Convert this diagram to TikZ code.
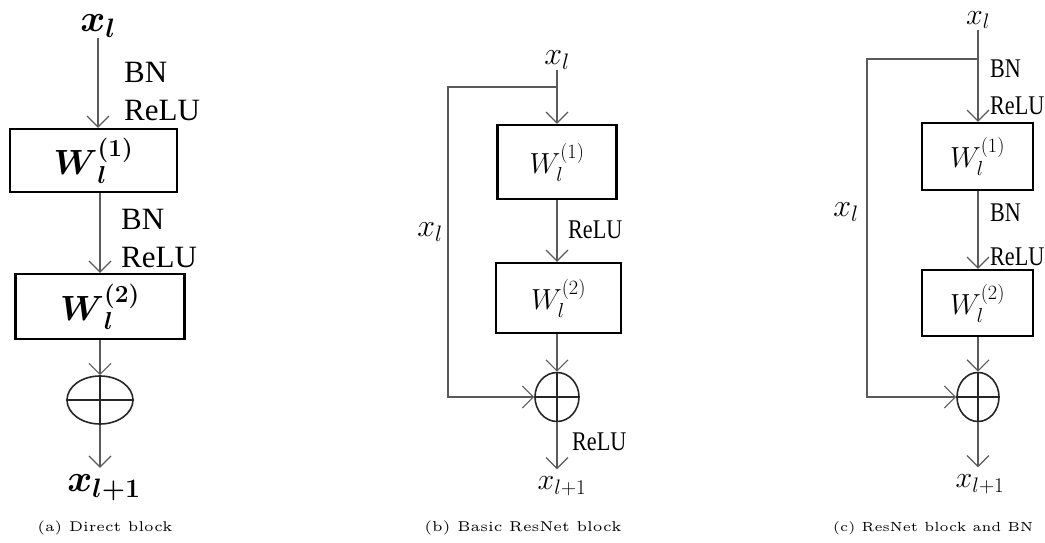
\RequirePackage{fix-cm}
\documentclass[tikz,border=0pt]{standalone}
\usepackage{fontspec}
\usepackage{amsmath}
\usepackage{graphicx}
\usetikzlibrary{shapes.geometric, arrows.meta, positioning, calc}
\newfontfamily\dfont{Liberation Serif}
\newfontfamily\cfont{Liberation Serif}[FakeStretch=0.82]
\definecolor{linegray}{HTML}{5A5A5A}
\newcommand{\xbold}[1]{$\boldsymbol{x}_{\boldsymbol{#1}}$}
\newcommand{\wbold}[1]{$\boldsymbol{W}_{\boldsymbol{l}}^{\boldsymbol{(#1)}}$}
\newcommand{\xplain}[1]{$x_{#1}$}
\newcommand{\wplain}[1]{$W_{l}^{(#1)}$}
\newcommand{\capt}[2]{\resizebox{#1}{!}{\fontsize{5}{6}\selectfont #2}}
\tikzstyle{wbox} = [rectangle, draw=black, line width=2.2pt, inner sep=0pt]
\tikzstyle{sumnode} = [ellipse, draw=black!85, line width=1.6pt, inner sep=0pt]
\tikzstyle{arr} = [-{Straight Barb[length=11pt, width=22pt]}, line width=1.2pt, color=linegray]
\tikzstyle{conn} = [line width=1.4pt, color=black!85]
\tikzstyle{lbl} = [inner sep=1pt]
\tikzstyle{txa} = [inner sep=0pt, anchor=west, font=\dfont\fontsize{31}{34}\selectfont]
\tikzstyle{txb} = [inner sep=0pt, anchor=west, font=\cfont\fontsize{27}{30}\selectfont]

\begin{document}
\begin{tikzpicture}[x=1pt, y=-1pt]
    \useasboundingbox (0,0) rectangle (1045,543);

    % (a) Direct block
    \node[lbl, font=\fontsize{38}{42}\selectfont] (xa) at (98,26) {\xbold{l}};
    \node[wbox, minimum width=167pt, minimum height=63pt, font=\fontsize{35}{40}\selectfont] (wa1) at (93.5,160.5) {\wbold{1}};
    \node[wbox, minimum width=169pt, minimum height=65pt, font=\fontsize{35}{40}\selectfont] (wa2) at (100,306.5) {\wbold{2}};
    \node[sumnode, minimum width=66pt, minimum height=48pt] (sa) at (100,400) {};
    \node[lbl, font=\fontsize{38}{42}\selectfont] (xao) at (104,488) {\xbold{l+1}};
    \node[txa] (bna1) at (124,72) {BN};
    \node[txa] (rla1) at (124,111) {ReLU};
    \node[txa] (bna2) at (121,219) {BN};
    \node[txa] (rla2) at (121,258) {ReLU};

    \draw[arr] (xa.south) -- (xa.south |- wa1.north);
    \draw[arr] (wa2 |- wa1.south) -- (wa2.north);
    \draw[arr] (wa2.south) -- (sa.north);
    \draw[arr, shorten >=6pt] (sa.south) -- (sa.south |- xao.north);
    \draw[conn] (sa.west) -- (sa.east);
    \draw[conn] (sa.north) -- (sa.south);

    % (b) Basic ResNet block
    \node[lbl, font=\fontsize{32}{36}\selectfont] (xb) at (557,60) {\xplain{l}};
    \coordinate (bj) at (557,87);
    \coordinate (bl) at (448,87);
    \node[wbox, minimum width=119pt, minimum height=74pt, font=\fontsize{29}{34}\selectfont] (wb1) at (557,162) {\wplain{1}};
    \node[wbox, minimum width=125pt, minimum height=70pt, font=\fontsize{29}{34}\selectfont] (wb2) at (558.5,298) {\wplain{2}};
    \node[sumnode, minimum width=44pt, minimum height=49pt] (sb) at (557,397) {};
    \node[lbl, font=\fontsize{32}{36}\selectfont] (xbs) at (430,232) {\xplain{l}};
    \node[lbl, font=\fontsize{30}{34}\selectfont] (xbo) at (562,486) {\xplain{l+1}};
    \node[txb] (rlb1) at (568,230) {ReLU};
    \node[txb] (rlb2) at (572,442) {ReLU};

    \draw[arr] (xb.south) -- (wb1.north);
    \draw[arr] (wb1.south) -- (wb1.south |- wb2.north);
    \draw[arr] (wb2.south -| sb) -- (sb.north);
    \draw[arr] (bj) -- (bl) |- (sb.west);
    \draw[arr, shorten >=6pt] (sb.south) -- (sb.south |- xbo.north);
    \draw[conn] (sb.west) -- (sb.east);
    \draw[conn] (sb.north) -- (sb.south);

    % (c) ResNet block and BN
    \node[lbl, font=\fontsize{30}{34}\selectfont] (xc) at (978,20) {\xplain{l}};
    \coordinate (cj) at (978,59);
    \coordinate (cl) at (867,59);
    \node[wbox, minimum width=111pt, minimum height=67pt, font=\fontsize{29}{34}\selectfont] (wc1) at (977.5,156.5) {\wplain{1}};
    \node[wbox, minimum width=111pt, minimum height=66pt, font=\fontsize{29}{34}\selectfont] (wc2) at (977.5,303) {\wplain{2}};
    \node[sumnode, minimum width=42pt, minimum height=49pt] (sc) at (978,397) {};
    \node[lbl, font=\fontsize{32}{36}\selectfont] (xcs) at (846,212) {\xplain{l}};
    \node[lbl, font=\fontsize{30}{34}\selectfont] (xco) at (980,484) {\xplain{l+1}};
    \node[txb] (bnc1) at (990,69) {BN};
    \node[txb] (rlc1) at (990,106) {ReLU};
    \node[txb] (bnc2) at (990,213) {BN};
    \node[txb] (rlc2) at (990,257) {ReLU};

    \draw[arr] (xc.south) -- (xc.south |- wc1.north);
    \draw[arr] (wc1.south -| sc) -- (wc2.north -| sc);
    \draw[arr] (wc2.south -| sc) -- (sc.north);
    \draw[arr] (cj) -- (cl) |- (sc.west);
    \draw[arr, shorten >=6pt] (sc.south) -- (sc.south |- xco.north);
    \draw[conn] (sc.west) -- (sc.east);
    \draw[conn] (sc.north) -- (sc.south);

    % Captions
    \node (capa) at (105,528) {\capt{135pt}{(a) Direct block}};
    \node (capb) at (523,528) {\capt{197pt}{(b) Basic ResNet block}};
    \node (capc) at (933,528) {\capt{200pt}{(c) ResNet block and BN}};
\end{tikzpicture}
\end{document}
